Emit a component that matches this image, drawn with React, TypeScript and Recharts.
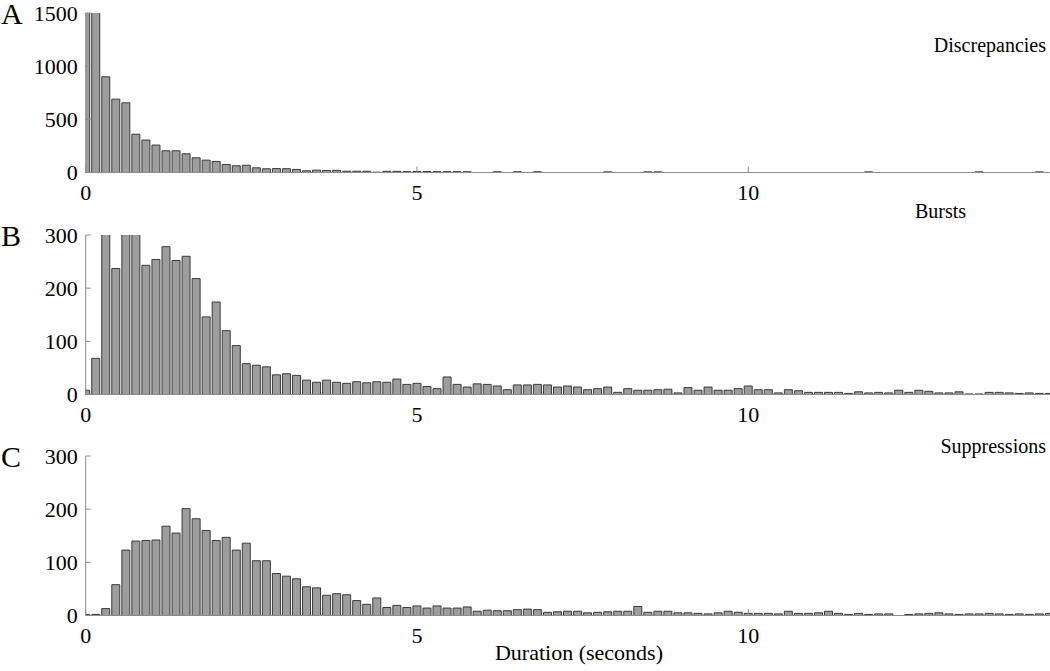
import { BarChart, Bar, XAxis, YAxis } from "recharts";

// bins are centred on multiples of BIN seconds (33 bins per 5 s)
const BIN = 10 / 66;
const X_MAX = 14.555;
const X_TICKS = [0, 5, 10];

const discrepancies = [
  2400, 1650, 900, 690, 655, 360, 305, 258, 204, 204,
  176, 138, 116, 104, 75, 63, 68, 44, 35, 37,
  36, 29, 16, 22, 19, 20, 12, 12, 12, 3,
  11, 11, 8, 9, 9, 8, 8, 8, 7, 0,
  0, 7, 0, 7, 0, 7, 0, 0, 0, 0,
  0, 0, 6, 0, 0, 0, 6, 6, 0, 0,
  0, 0, 0, 0, 0, 0, 0, 0, 0, 0,
  0, 0, 0, 0, 0, 0, 0, 0, 6, 0,
  0, 0, 0, 0, 0, 0, 0, 0, 0, 6,
  0, 0, 0, 0, 0, 6, 0,
];

const bursts = [
  8, 68, 320, 237, 345, 305, 243, 254, 278, 252,
  260, 218, 146, 174, 120, 92, 58, 55, 52, 37,
  39, 36, 27, 23, 27, 23, 21, 24, 22, 24,
  23, 29, 19, 21, 15, 11, 33, 19, 14, 20,
  19, 16, 9, 18, 18, 19, 18, 14, 16, 14,
  9, 11, 14, 4, 11, 8, 8, 9, 10, 3,
  13, 8, 14, 8, 8, 11, 16, 9, 9, 3,
  9, 7, 4, 4, 4, 4, 2, 5, 3, 4,
  3, 8, 4, 8, 6, 3, 3, 5, 1, 1,
  4, 4, 3, 2, 3, 2, 2,
];

const suppressions = [
  2, 2, 13, 58, 123, 140, 141, 142, 168, 155,
  201, 182, 160, 141, 147, 123, 136, 103, 103, 79,
  74, 69, 54, 52, 38, 41, 39, 28, 21, 33,
  15, 19, 15, 18, 14, 18, 14, 14, 16, 8,
  10, 9, 9, 11, 12, 11, 6, 7, 8, 8,
  5, 6, 7, 8, 8, 17, 6, 8, 8, 5,
  5, 4, 3, 5, 8, 6, 4, 4, 4, 3,
  8, 4, 4, 5, 8, 4, 2, 4, 2, 3,
  3, 0, 2, 3, 4, 5, 3, 2, 3, 3,
  4, 3, 2, 3, 2, 3, 4,
];

const A_TICKS = [0, 500, 1000, 1500];
const BC_TICKS = [0, 100, 200, 300];

const FONT = '"Liberation Serif", "Times New Roman", serif';
const AXIS = "#8c8c8c";

function Panel({ values, yMax, yTicks, top }: {
  values: number[];
  yMax: number;
  yTicks: number[];
  top: number;
}) {
  const data = values.map((v, i) => ({ x: i * BIN, v }));
  return (
    <div style={{ position: "absolute", left: 0, top: top - 15, width: 1050, height: 210 }}>
      <BarChart
        width={1050}
        height={210}
        data={data}
        margin={{ top: 15, right: 0, bottom: 0, left: 0 }}
      >
        <XAxis
          dataKey="x"
          type="number"
          domain={[0, X_MAX]}
          ticks={X_TICKS}
          interval={0}
          allowDataOverflow
          height={35.5}
          stroke={AXIS}
          tickSize={-6}
          tickMargin={18}
          tick={{ fill: "#000", fontSize: 22, fontFamily: FONT }}
        />
        <YAxis
          type="number"
          domain={[0, yMax]}
          ticks={yTicks}
          interval={0}
          allowDataOverflow
          width={85.7}
          stroke={AXIS}
          tickSize={-5}
          tickMargin={13}
          tick={{ fill: "#000", fontSize: 22, fontFamily: FONT }}
        />
        <Bar
          dataKey="v"
          fill="#9d9d9d"
          stroke="#3a3a3a"
          strokeWidth={1}
          barSize={8}
          isAnimationActive={false}
        />
      </BarChart>
    </div>
  );
}

export default function App() {
  return (
    <div style={{ position: "absolute", left: 0, top: 0, width: 1050, height: 671, background: "#fff" }}>
      <Panel values={discrepancies} yMax={1500} yTicks={A_TICKS} top={13.2} />
      <Panel values={bursts} yMax={300} yTicks={BC_TICKS} top={235} />
      <Panel values={suppressions} yMax={300} yTicks={BC_TICKS} top={456.2} />
      <svg
        width={1050}
        height={671}
        style={{ position: "absolute", left: 0, top: 0, pointerEvents: "none" }}
        fontFamily={FONT}
      >
        <text x={1} y={24} fontSize={30}>A</text>
        <text x={1} y={246} fontSize={30}>B</text>
        <text x={1} y={467} fontSize={30}>C</text>
        <text x={1046} y={52} fontSize={20} textAnchor="end">Discrepancies</text>
        <text x={915} y={218} fontSize={20}>Bursts</text>
        <text x={1046} y={453} fontSize={20} textAnchor="end">Suppressions</text>
        <text x={579} y={660} fontSize={22} textAnchor="middle">Duration (seconds)</text>
      </svg>
    </div>
  );
}
